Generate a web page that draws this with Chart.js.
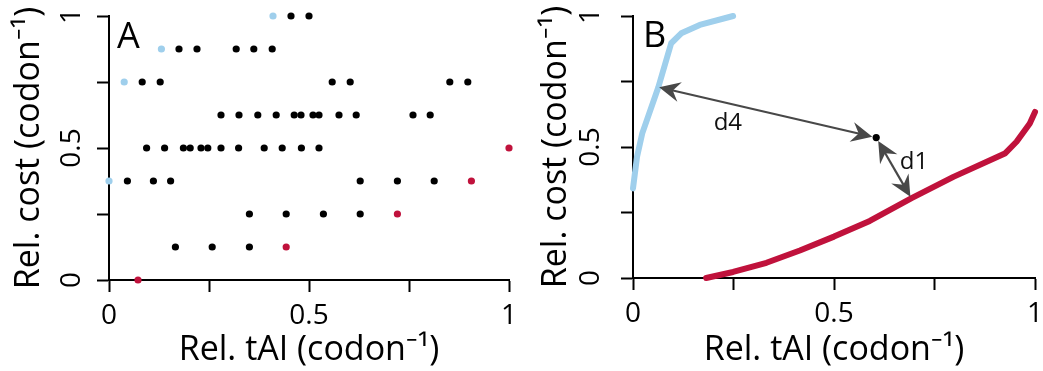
<!DOCTYPE html>
<html>
<head>
<meta charset="utf-8">
<script src="https://cdn.jsdelivr.net/npm/chart.js@4.4.1/dist/chart.umd.min.js"></script>
<style>
  body { margin: 0; background: #fff; }
  #wrap { position: relative; width: 1043px; height: 371px; }
  #chartA { position: absolute; left: 0; top: 0; }
  #chartB { position: absolute; left: 521px; top: 0; }
</style>
</head>
<body>
<div id="wrap">
  <canvas id="chartA" width="521" height="371"></canvas>
  <canvas id="chartB" width="522" height="371"></canvas>
</div>
<script>
// Panel A: codon usage points (rel. tAI, rel. cost)
const blackX = [0.455, 0.5,
  0.175, 0.22, 0.318, 0.362, 0.408,
  0.083, 0.128, 0.558, 0.603, 0.852, 0.897,
  0.28, 0.325, 0.372, 0.418, 0.463, 0.48, 0.51, 0.525, 0.575, 0.618, 0.76, 0.803,
  0.094, 0.139, 0.186, 0.203, 0.23, 0.247, 0.28, 0.324, 0.388, 0.433, 0.481, 0.525,
  0.046, 0.111, 0.154, 0.628, 0.721, 0.813,
  0.351, 0.443, 0.536, 0.628,
  0.166, 0.258, 0.351];
const blackY = [1, 1,
  0.875, 0.875, 0.875, 0.875, 0.875,
  0.75, 0.75, 0.75, 0.75, 0.75, 0.75,
  0.625, 0.625, 0.625, 0.625, 0.625, 0.625, 0.625, 0.625, 0.625, 0.625, 0.625, 0.625,
  0.5, 0.5, 0.5, 0.5, 0.5, 0.5, 0.5, 0.5, 0.5, 0.5, 0.5, 0.5,
  0.375, 0.375, 0.375, 0.375, 0.375, 0.375,
  0.25, 0.25, 0.25, 0.25,
  0.125, 0.125, 0.125];
const blueX = [0.41, 0.131, 0.038, 0];
const blueY = [1, 0.875, 0.75, 0.375];
const redX = [0.0725, 0.443, 0.721, 0.906, 1];
const redY = [0, 0.125, 0.25, 0.375, 0.5];

// Panel B: fronts and one sample codon
const frontBlueX = [0, 0.01, 0.023, 0.063, 0.095, 0.12, 0.166, 0.249];
const frontBlueY = [0.342, 0.462, 0.552, 0.728, 0.896, 0.934, 0.966, 1.0];
const frontRedX = [0.182, 0.249, 0.332, 0.415, 0.5, 0.589, 0.693, 0.797, 0.925, 0.954, 0.987, 1.0];
const frontRedY = [0, 0.023, 0.058, 0.105, 0.158, 0.218, 0.305, 0.386, 0.475, 0.52, 0.59, 0.634];
const sampleX = [0.605];
const sampleY = [0.536];
// distance arrows: from sample to nearest point on each front
const arrowNames = ['d4', 'd1'];
const arrowEndX = [0.065, 0.69];
const arrowEndY = [0.728, 0.31];
const arrowLabelX = [0.236, 0.699];
const arrowLabelY = [0.591, 0.442];

const tickLabels = { 0: '0', 0.5: '0.5', 1: '1' };

const BLACK = '#000000';
const BLUE = '#9fcfec';
const RED = '#c0123c';
const GREY = '#484848';
const FONT = "'Open Sans', 'Noto Sans', sans-serif";

const pts = (xs, ys) => xs.map((x, i) => ({ x, y: ys[i] }));

// labels may hang outside the plot; keep the plot box where the layout padding says
function noScalePadding(scale) {
  scale.paddingTop = 0;
  scale.paddingBottom = 0;
  scale.paddingLeft = 0;
  scale.paddingRight = 0;
}

function axes(yWidth, xHeight, yPad, yTitlePad) {
  const common = {
    type: 'linear',
    min: 0,
    max: 1,
    border: { color: BLACK, width: 2 },
    grid: { drawOnChartArea: false, color: BLACK, tickColor: BLACK, tickWidth: 2, tickLength: 12 },
    afterBuildTicks: (scale) => {
      scale.ticks = [0, 0.25, 0.5, 0.75, 1].map((v) => ({ value: v }));
    },
  };
  return {
    x: {
      ...common,
      position: 'bottom',
      ticks: {
        color: BLACK,
        padding: 7,
        maxRotation: 0,
        font: { family: FONT, size: 28 },
        callback: (v) => tickLabels[v] || '',
      },
      title: {
        display: true,
        text: 'Rel. tAI (codon⁻¹)',
        color: BLACK,
        font: { family: FONT, size: 34 },
        padding: { top: 0, bottom: 0 },
      },
      afterFit: (scale) => { scale.height = xHeight; noScalePadding(scale); },
    },
    y: {
      ...common,
      position: 'left',
      ticks: {
        color: BLACK,
        padding: yPad,
        minRotation: 90,
        maxRotation: 90,
        crossAlign: 'center',
        font: { family: FONT, size: 28 },
        callback: (v) => tickLabels[v] || '',
      },
      title: {
        display: true,
        text: 'Rel. cost (codon⁻¹)',
        color: BLACK,
        font: { family: FONT, size: 34 },
        padding: { top: yTitlePad, bottom: 0 },
      },
      afterFit: (scale) => { scale.width = yWidth; noScalePadding(scale); },
    },
  };
}

function panelLetter(letter, dx, dy) {
  return {
    id: 'letter' + letter,
    afterDraw(chart) {
      const { ctx, chartArea } = chart;
      ctx.save();
      ctx.fillStyle = BLACK;
      ctx.font = `36px ${FONT}`;
      ctx.textAlign = 'left';
      ctx.textBaseline = 'alphabetic';
      ctx.fillText(letter, chartArea.left + dx, chartArea.top + dy);
      ctx.restore();
    },
  };
}

function drawHead(ctx, tx, ty, fx, fy) {
  const ang = Math.atan2(ty - fy, tx - fx);
  const len = 21, half = 10, notch = 14;
  ctx.save();
  ctx.translate(tx, ty);
  ctx.rotate(ang);
  ctx.beginPath();
  ctx.moveTo(0, 0);
  ctx.lineTo(-len, -half);
  ctx.lineTo(-notch, 0);
  ctx.lineTo(-len, half);
  ctx.closePath();
  ctx.fill();
  ctx.restore();
}

const arrowsPlugin = {
  id: 'arrows',
  afterDatasetsDraw(chart) {
    const { ctx, scales } = chart;
    const sx = scales.x.getPixelForValue(sampleX[0]);
    const sy = scales.y.getPixelForValue(sampleY[0]);
    ctx.save();
    ctx.strokeStyle = GREY;
    ctx.fillStyle = GREY;
    ctx.lineWidth = 2.2;
    arrowNames.forEach((name, i) => {
      const ex = scales.x.getPixelForValue(arrowEndX[i]);
      const ey = scales.y.getPixelForValue(arrowEndY[i]);
      const d = Math.hypot(ex - sx, ey - sy);
      const ux = (ex - sx) / d, uy = (ey - sy) / d;
      const ax = sx + ux * 4, ay = sy + uy * 4;
      ctx.beginPath();
      ctx.moveTo(ax + ux * 12, ay + uy * 12);
      ctx.lineTo(ex - ux * 12, ey - uy * 12);
      ctx.stroke();
      drawHead(ctx, ex, ey, ax, ay);
      drawHead(ctx, ax, ay, ex, ey);
      ctx.fillStyle = '#111';
      ctx.font = `24px ${FONT}`;
      ctx.textAlign = 'center';
      ctx.textBaseline = 'middle';
      ctx.fillText(name, scales.x.getPixelForValue(arrowLabelX[i]), scales.y.getPixelForValue(arrowLabelY[i]));
      ctx.fillStyle = GREY;
    });
    // the sample codon on top of the arrows
    ctx.fillStyle = BLACK;
    ctx.beginPath();
    ctx.arc(sx, sy, 3.6, 0, Math.PI * 2);
    ctx.fill();
    ctx.restore();
  },
};

const baseOptions = {
  responsive: false,
  animation: false,
  plugins: { legend: { display: false }, tooltip: { enabled: false } },
};

new Chart(document.getElementById('chartA'), {
  type: 'scatter',
  data: {
    datasets: [
      { data: pts(blackX, blackY), backgroundColor: BLACK, borderWidth: 0, pointRadius: 3.6, clip: false },
      { data: pts(blueX, blueY), backgroundColor: BLUE, borderWidth: 0, pointRadius: 3.6, clip: false },
      { data: pts(redX, redY), backgroundColor: RED, borderWidth: 0, pointRadius: 3.6, clip: false },
    ],
  },
  options: {
    ...baseOptions,
    layout: { padding: { top: 16, right: 12, left: 0, bottom: 0 } },
    scales: axes(109, 91, 5, 9),
  },
  plugins: [panelLetter('A', 8, 32)],
});

new Chart(document.getElementById('chartB'), {
  type: 'scatter',
  data: {
    datasets: [
      { data: pts(frontBlueX, frontBlueY), showLine: true, borderColor: BLUE, borderWidth: 6,
        borderCapStyle: 'round', borderJoinStyle: 'round', pointRadius: 0, clip: false },
      { data: pts(frontRedX, frontRedY), showLine: true, borderColor: RED, borderWidth: 6,
        borderCapStyle: 'round', borderJoinStyle: 'round', pointRadius: 0, clip: false },
    ],
  },
  options: {
    ...baseOptions,
    layout: { padding: { top: 16, right: 8, left: 0, bottom: 0 } },
    scales: axes(112, 93, 10, 15),
  },
  plugins: [arrowsPlugin, panelLetter('B', 10, 31)],
});
</script>
</body>
</html>
